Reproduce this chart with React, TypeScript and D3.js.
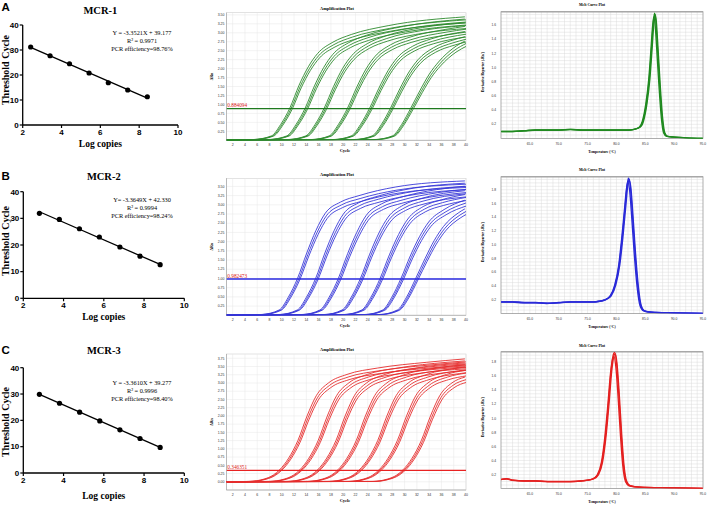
import React from "react";
import * as d3 from "d3";

type Pt = [number, number];

// ---------- Standard curves (log copies vs threshold cycle) ----------
const stdLogA = [2.41, 3.41, 4.41, 5.42, 6.41, 7.41, 8.42];
const stdCtA = [31.2, 27.7, 24.5, 20.8, 16.9, 14.0, 11.3];
const stdLogB = [2.8, 3.79, 4.79, 5.78, 6.8, 7.8, 8.8];
const stdCtB = [31.9, 29.6, 26.1, 23.0, 19.25, 15.8, 12.6];
const stdLogC = [2.8, 3.8, 4.8, 5.8, 6.8, 7.8, 8.8];
const stdCtC = [29.9, 26.5, 23.1, 19.8, 16.4, 13.1, 9.7];
const eqA = ["Y = -3.3521X + 39.177", "R² = 0.9971", "PCR efficiency=98.76%"];
const eqB = ["Y= -3.3649X + 42.330", "R² = 0.9994", "PCR efficiency=98.24%"];
const eqC = ["Y = -3.3610X + 39.277", "R² = 0.9996", "PCR efficiency=98.40%"];
const logTicks = [2, 4, 6, 8, 10];
const ctTicks = [0, 10, 20, 30, 40];

// ---------- Amplification plots ([cycle, ΔRn] key points per dilution) ----------
const ampA: Pt[][] = [
  [[1, 0], [5.5, 0.02], [8.5, 0.12], [10, 0.43], [11.5, 0.88], [13, 1.5], [14.5, 2.0], [16, 2.36], [18.5, 2.67], [21.5, 2.88], [27.5, 3.12], [40, 3.36]],
  [[1, 0], [8, 0.02], [11, 0.12], [12.5, 0.43], [14, 0.88], [15.5, 1.48], [17, 1.98], [18.5, 2.34], [21, 2.65], [24, 2.86], [30, 3.1], [40, 3.3]],
  [[1, 0], [11.1, 0.02], [14.1, 0.12], [15.6, 0.43], [17.1, 0.88], [18.6, 1.46], [20.1, 1.96], [21.6, 2.31], [24.1, 2.63], [27.1, 2.84], [33.1, 3.07], [40, 3.2]],
  [[1, 0], [14.9, 0.02], [17.9, 0.12], [19.4, 0.43], [20.9, 0.88], [22.4, 1.45], [23.9, 1.94], [25.4, 2.29], [27.9, 2.6], [30.9, 2.8], [36.9, 3.02], [40, 3.1]],
  [[1, 0], [18.5, 0.02], [21.5, 0.12], [23, 0.43], [24.5, 0.88], [26, 1.42], [27.5, 1.9], [29, 2.25], [31.5, 2.56], [34.5, 2.76], [40, 2.96]],
  [[1, 0], [21.9, 0.02], [24.9, 0.12], [26.4, 0.43], [27.9, 0.88], [29.4, 1.4], [30.9, 1.86], [32.4, 2.2], [34.9, 2.52], [37.9, 2.72], [40, 2.82]],
  [[1, 0], [25.2, 0.02], [28.2, 0.12], [29.7, 0.43], [31.2, 0.88], [32.7, 1.36], [34.2, 1.8], [35.7, 2.13], [38.2, 2.52], [40, 2.7]],
];
const ampB: Pt[][] = [
  [[1, 0], [6.75, 0.02], [9.75, 0.14], [11.25, 0.48], [12.75, 0.98], [14.25, 1.65], [15.75, 2.25], [17.25, 2.7], [19.75, 3.0], [22.75, 3.17], [28.75, 3.4], [40, 3.56]],
  [[1, 0], [9.7, 0.02], [12.7, 0.14], [14.2, 0.48], [15.7, 0.98], [17.2, 1.65], [18.7, 2.24], [20.2, 2.68], [22.7, 2.98], [25.7, 3.15], [31.7, 3.37], [40, 3.5]],
  [[1, 0], [13.4, 0.02], [16.4, 0.14], [17.9, 0.48], [19.4, 0.98], [20.9, 1.63], [22.4, 2.2], [23.9, 2.64], [26.4, 2.95], [29.4, 3.12], [35.4, 3.33], [40, 3.42]],
  [[1, 0], [17, 0.02], [20, 0.14], [21.5, 0.48], [23, 0.98], [24.5, 1.62], [26, 2.18], [27.5, 2.6], [30, 2.92], [33, 3.1], [40, 3.3]],
  [[1, 0], [20.2, 0.02], [23.2, 0.14], [24.7, 0.48], [26.2, 0.98], [27.7, 1.6], [29.2, 2.14], [30.7, 2.55], [33.2, 2.88], [36.2, 3.06], [40, 3.2]],
  [[1, 0], [23.6, 0.02], [26.6, 0.14], [28.1, 0.48], [29.6, 0.98], [31.1, 1.57], [32.6, 2.08], [34.1, 2.47], [36.6, 2.8], [40, 3.05]],
  [[1, 0], [26, 0.02], [29, 0.14], [30.5, 0.48], [32, 0.98], [33.5, 1.5], [35, 1.98], [36.5, 2.35], [39, 2.72], [40, 2.82]],
];
const ampC: Pt[][] = [
  [[1, 0], [4.8, 0.01], [7.3, 0.08], [8.8, 0.2], [9.8, 0.35], [11.3, 0.7], [12.8, 1.22], [14.3, 1.95], [15.8, 2.55], [17.8, 2.93], [20.8, 3.18], [25.8, 3.37], [33.8, 3.54], [40, 3.64]],
  [[1, 0], [8.1, 0.01], [10.6, 0.08], [12.1, 0.2], [13.1, 0.35], [14.6, 0.7], [16.1, 1.22], [17.6, 1.95], [19.1, 2.55], [21.1, 2.93], [24.1, 3.18], [29.1, 3.37], [37.1, 3.54], [40, 3.58]],
  [[1, 0], [11, 0.01], [13.5, 0.08], [15, 0.2], [16, 0.35], [17.5, 0.7], [19, 1.22], [20.5, 1.95], [22, 2.55], [24, 2.93], [27, 3.18], [32, 3.37], [40, 3.52]],
  [[1, 0], [14.3, 0.01], [16.8, 0.08], [18.3, 0.2], [19.3, 0.35], [20.8, 0.7], [22.3, 1.22], [23.8, 1.95], [25.3, 2.55], [27.3, 2.93], [30.3, 3.18], [35.3, 3.37], [40, 3.47]],
  [[1, 0], [17.8, 0.01], [20.3, 0.08], [21.8, 0.2], [22.8, 0.35], [24.3, 0.7], [25.8, 1.22], [27.3, 1.95], [28.8, 2.55], [30.8, 2.93], [33.8, 3.18], [38.8, 3.37], [40, 3.4]],
  [[1, 0], [21, 0.01], [23.5, 0.08], [25, 0.2], [26, 0.35], [27.5, 0.7], [29, 1.22], [30.5, 1.95], [32, 2.55], [34, 2.93], [37, 3.18], [40, 3.3]],
  [[1, 0], [24.9, 0.01], [27.4, 0.08], [28.9, 0.2], [29.9, 0.35], [31.4, 0.7], [32.9, 1.22], [34.4, 1.95], [35.9, 2.55], [37.9, 2.93], [40, 3.1]],
];
const ampRepShift = [-0.18, 0, 0.16];
const ampRepScale = [1.025, 1, 0.975];
const thresholdA = 0.884094;
const thresholdB = 0.982473;
const thresholdC = 0.346351;
const cycleTicks = [2, 4, 6, 8, 10, 12, 14, 16, 18, 20, 22, 24, 26, 28, 30, 32, 34, 36, 38, 40];
const drnTicksAB = [0.25, 0.5, 0.75, 1.0, 1.25, 1.5, 1.75, 2.0, 2.25, 2.5, 2.75, 3.0, 3.25, 3.5];
const drnTicksC = [0, 0.25, 0.5, 0.75, 1.0, 1.25, 1.5, 1.75, 2.0, 2.25, 2.5, 2.75, 3.0, 3.25, 3.5, 3.75];

// ---------- Melt curves ([temperature, -Rn'] ) ----------
const meltA: Pt[] = [[60, 0.1], [62, 0.1], [64, 0.11], [66, 0.12], [68, 0.12], [70, 0.12], [72, 0.13], [74, 0.12], [76, 0.12], [78, 0.12], [80, 0.12], [82, 0.12], [83, 0.13], [84, 0.16], [84.6, 0.25], [85.2, 0.5], [85.7, 0.85], [86.1, 1.3], [86.4, 1.65], [86.6, 1.77], [86.8, 1.68], [87.1, 1.3], [87.5, 0.75], [87.9, 0.3], [88.3, 0.08], [88.8, 0.03], [90, 0.02], [92, 0.01], [95, 0.0]];
const meltB: Pt[] = [[60, 0.17], [62, 0.17], [64, 0.16], [66, 0.16], [68, 0.15], [70, 0.16], [72, 0.17], [74, 0.17], [76, 0.17], [77, 0.18], [78, 0.2], [79, 0.26], [79.8, 0.42], [80.5, 0.72], [81, 1.1], [81.5, 1.55], [81.9, 1.9], [82.1, 1.97], [82.4, 1.85], [82.8, 1.4], [83.2, 0.9], [83.7, 0.4], [84.2, 0.12], [84.8, 0.04], [86, 0.02], [90, 0.01], [95, 0.0]];
const meltC: Pt[] = [[60, 0.13], [61, 0.14], [62, 0.12], [64, 0.11], [66, 0.11], [68, 0.1], [70, 0.1], [72, 0.1], [74, 0.11], [75, 0.12], [76, 0.14], [76.8, 0.2], [77.5, 0.38], [78.1, 0.75], [78.6, 1.2], [79.1, 1.7], [79.5, 1.92], [79.7, 1.94], [80, 1.8], [80.4, 1.35], [80.8, 0.8], [81.2, 0.35], [81.7, 0.1], [82.3, 0.04], [84, 0.02], [90, 0.01], [95, 0.0]];
const meltRepShift = [-0.12, 0, 0.1];
const meltRepScale = [0.97, 1, 0.99];
const tempTicks = [65, 70, 75, 80, 85, 90, 95];
const derivTicksA = [0.2, 0.4, 0.6, 0.8, 1.0, 1.2, 1.4, 1.6];
const derivTicksBC = [0.2, 0.4, 0.6, 0.8, 1.0, 1.2, 1.4, 1.6, 1.8];

const SERIF = "'Liberation Serif','Times New Roman',serif";
const SANS = "'Liberation Sans',Arial,sans-serif";

function StdCurve(props: any) {
  const { logs, cts, eq, title, letter, y0, y40, x0, x1, letterY, titleY, logY, yLabC, eqY } = props;
  const x = d3.scaleLinear().domain([2, 10]).range([x0, x1]);
  const y = d3.scaleLinear().domain([0, 40]).range([y0, y40]);
  const mx = d3.mean(logs) as number;
  const my = d3.mean(cts) as number;
  const sxy = d3.sum(logs.map((v: number, i: number) => (v - mx) * (cts[i] - my)));
  const sxx = d3.sum(logs.map((v: number) => (v - mx) * (v - mx)));
  const slope = sxy / sxx;
  const icpt = my - slope * mx;
  const lx0 = d3.min(logs) as number;
  const lx1 = d3.max(logs) as number;
  const cx = (x0 + x1) / 2;
  return (
    <g>
      <text x={1.5} y={letterY} fontFamily={SANS} fontWeight="bold" fontSize={11.5}>{letter}</text>
      <text x={cx} y={titleY} textAnchor="middle" fontFamily={SERIF} fontWeight="bold" fontSize={10.5}>{title}</text>
      <line x1={x0} x2={x0} y1={y0} y2={y40} stroke="#000" strokeWidth={1.3} />
      <line x1={x0} x2={x1} y1={y0} y2={y0} stroke="#000" strokeWidth={1.3} />
      {ctTicks.map((t) => (
        <g key={"y" + t}>
          <line x1={x0 - 3} x2={x0} y1={y(t)} y2={y(t)} stroke="#000" strokeWidth={1.2} />
          <text x={x0 - 4} y={y(t)} dy="0.35em" textAnchor="end" fontFamily={SANS} fontWeight="bold" fontSize={8}>{t}</text>
        </g>
      ))}
      {logTicks.map((t) => (
        <g key={"x" + t}>
          <line x1={x(t)} x2={x(t)} y1={y0} y2={y0 + 3} stroke="#000" strokeWidth={1.2} />
          <text x={x(t)} y={y0 + 10} textAnchor="middle" fontFamily={SANS} fontWeight="bold" fontSize={8}>{t}</text>
        </g>
      ))}
      <text transform={`translate(${9},${yLabC}) rotate(-90)`} textAnchor="middle" fontFamily={SERIF} fontWeight="bold" fontSize={10}>Threshold Cycle</text>
      <text x={cx} y={logY} textAnchor="middle" fontFamily={SERIF} fontWeight="bold" fontSize={9.5}>Log copies</text>
      <line x1={x(lx0)} x2={x(lx1)} y1={y(icpt + slope * lx0)} y2={y(icpt + slope * lx1)} stroke="#000" strokeWidth={1.3} />
      {logs.map((v: number, i: number) => (
        <circle key={i} cx={x(v)} cy={y(cts[i])} r={2.6} fill="#000" />
      ))}
      {eq.map((s: string, i: number) => (
        <text key={i} x={142} y={eqY + i * 8.2} textAnchor="middle" fontFamily={SERIF} fontSize={6.3}>{s}</text>
      ))}
    </g>
  );
}

function AmpPlot(props: any) {
  const { id, groups, color, thrColor, threshold, thrLabel, yDomain, yTicks, top, bottom, titleY, thrWidth } = props;
  const left = 226.5, right = 466;
  const x = d3.scaleLinear().domain([1, 40]).range([left, right]);
  const y = d3.scaleLinear().domain(yDomain).range([bottom, top]);
  const line = d3.line<Pt>().x((d) => x(d[0])).y((d) => y(d[1])).curve(d3.curveMonotoneX);
  const fmt = d3.format(".2f");
  const hGrid = d3.range(Math.ceil(yDomain[0] / 0.25) * 0.25, yDomain[1], 0.25);
  return (
    <g>
      <defs>
        <clipPath id={id}>
          <rect x={left} y={top} width={right - left} height={bottom - top} />
        </clipPath>
      </defs>
      <text x={337} y={titleY} textAnchor="middle" fontFamily={SERIF} fontWeight="bold" fontSize={4.3}>Amplification Plot</text>
      <rect x={left} y={top} width={right - left} height={bottom - top} fill="#fff" stroke="#d0d0d0" strokeWidth={0.6} />
      {cycleTicks.map((c) => (
        <line key={"v" + c} x1={x(c)} x2={x(c)} y1={top} y2={bottom} stroke="#e6e6e6" strokeWidth={0.5} />
      ))}
      {hGrid.map((v) => (
        <line key={"h" + v} x1={left} x2={right} y1={y(v)} y2={y(v)} stroke="#e6e6e6" strokeWidth={0.5} />
      ))}
      <line x1={left} x2={left} y1={top} y2={bottom} stroke="#9a9a9a" strokeWidth={0.6} />
      <line x1={left} x2={right} y1={bottom} y2={bottom} stroke="#9a9a9a" strokeWidth={0.6} />
      <g clipPath={`url(#${id})`}>
        {groups.map((g: Pt[], gi: number) =>
          ampRepShift.map((s, ri) => (
            <path key={gi + "-" + ri} d={line(g.map((p) => [p[0] + s, p[1] * ampRepScale[ri]] as Pt)) as string} fill="none" stroke={color} strokeWidth={0.9} />
          ))
        )}
        <line x1={left} x2={right} y1={y(threshold)} y2={y(threshold)} stroke={thrColor} strokeWidth={thrWidth} />
      </g>
      <text x={left + 0.8} y={y(threshold) - 1.3} fontFamily={SERIF} fontSize={5.3} fill="#e01818">{thrLabel}</text>
      {yTicks.map((t: number) => (
        <text key={"yt" + t} x={left - 2} y={y(t)} dy="0.35em" textAnchor="end" fontFamily={SANS} fontSize={3.5} fill="#333">{fmt(t)}</text>
      ))}
      {cycleTicks.map((c) => (
        <text key={"xt" + c} x={x(c)} y={bottom + 5.5} textAnchor="middle" fontFamily={SANS} fontSize={3.5} fill="#333">{c}</text>
      ))}
      <text x={345} y={bottom + 11.5} textAnchor="middle" fontFamily={SERIF} fontWeight="bold" fontSize={4.5}>Cycle</text>
      <text transform={`translate(${213},${(top + bottom) / 2}) rotate(-90)`} textAnchor="middle" fontFamily={SERIF} fontWeight="bold" fontSize={4}>ΔRn</text>
    </g>
  );
}

function MeltPlot(props: any) {
  const { id, data, color, yDomain, yTicks, top, bottom, titleY } = props;
  const left = 501, right = 703;
  const x = d3.scaleLinear().domain([60, 95]).range([left, right]);
  const y = d3.scaleLinear().domain(yDomain).range([bottom, top]);
  const line = d3.line<Pt>().x((d) => x(d[0])).y((d) => y(d[1])).curve(d3.curveMonotoneX);
  const vGrid = d3.range(61, 95, 1);
  const hGrid = d3.range(0.05, yDomain[1], 0.05);
  return (
    <g>
      <defs>
        <clipPath id={id}>
          <rect x={left} y={top} width={right - left} height={bottom - top} />
        </clipPath>
      </defs>
      <text x={592} y={titleY} textAnchor="middle" fontFamily={SERIF} fontWeight="bold" fontSize={3.8}>Melt Curve Plot</text>
      <rect x={left} y={top} width={right - left} height={bottom - top} fill="#fff" />
      {vGrid.map((c) => (
        <line key={"v" + c} x1={x(c)} x2={x(c)} y1={top} y2={bottom} stroke="#dadada" strokeWidth={0.45} />
      ))}
      {hGrid.map((v, i) => (
        <line key={"h" + i} x1={left} x2={right} y1={y(v)} y2={y(v)} stroke="#dadada" strokeWidth={0.45} />
      ))}
      <rect x={left} y={top} width={right - left} height={bottom - top} fill="none" stroke="#8c8c8c" strokeWidth={0.7} />
      <line x1={left} x2={right} y1={top} y2={top} stroke="#a8a8a8" strokeWidth={1.6} />
      <g clipPath={`url(#${id})`}>
        {meltRepShift.map((s, ri) => (
          <path key={ri} d={line(data.map((p: Pt) => [p[0] + s, p[1] * meltRepScale[ri]] as Pt)) as string} fill="none" stroke={color} strokeWidth={1.3} />
        ))}
      </g>
      {yTicks.map((t: number) => (
        <text key={"yt" + t} x={left - 5} y={y(t)} dy="0.35em" textAnchor="end" fontFamily={SANS} fontSize={3.3} fill="#333">{t.toFixed(1)}</text>
      ))}
      {tempTicks.map((c) => (
        <text key={"xt" + c} x={x(c)} y={bottom + 6.5} textAnchor="middle" fontFamily={SANS} fontSize={3.3} fill="#333">{c.toFixed(1)}</text>
      ))}
      <text x={602} y={bottom + 14.3} textAnchor="middle" fontFamily={SERIF} fontWeight="bold" fontSize={3.6}>Temperature (°C)</text>
      <text transform={`translate(${484},${(top + bottom) / 2 - 3}) rotate(-90)`} textAnchor="middle" fontFamily={SERIF} fontWeight="bold" fontSize={3.5}>Derivative Reporter (-Rn')</text>
    </g>
  );
}

export default function App() {
  return (
    <svg width={708} height={505} viewBox="0 0 708 505" style={{ position: "absolute", left: 0, top: 0, background: "#fff" }}>
      <rect width={708} height={505} fill="#fff" />
      <StdCurve logs={stdLogA} cts={stdCtA} eq={eqA} title="MCR-1" letter="A" x0={22.7} x1={178} y0={125} y40={25} letterY={11} titleY={14} logY={146.5} yLabC={70} eqY={35} />
      <StdCurve logs={stdLogB} cts={stdCtB} eq={eqB} title="MCR-2" letter="B" x0={23.3} x1={184.3} y0={298.3} y40={191.7} letterY={180} titleY={180} logY={320} yLabC={241} eqY={202} />
      <StdCurve logs={stdLogC} cts={stdCtC} eq={eqC} title="MCR-3" letter="C" x0={23.3} x1={184.3} y0={473} y40={367.7} letterY={354} titleY={354} logY={499} yLabC={422} eqY={385} />

      <AmpPlot id="ampA" groups={ampA} color="#2c8a2c" thrColor="#1f7a1f" thrWidth={1.3} threshold={thresholdA} thrLabel="0.884094" yDomain={[0, 3.56]} yTicks={drnTicksAB} top={12.7} bottom={140.3} titleY={10} />
      <AmpPlot id="ampB" groups={ampB} color="#3838d8" thrColor="#2a2ae0" thrWidth={1.5} threshold={thresholdB} thrLabel="0.982473" yDomain={[0, 3.72]} yTicks={drnTicksAB} top={178.3} bottom={315.3} titleY={176} />
      <AmpPlot id="ampC" groups={ampC} color="#e52e2e" thrColor="#e82222" thrWidth={1.3} threshold={thresholdC} thrLabel="0.346351" yDomain={[-0.25, 3.88]} yTicks={drnTicksC} top={354} bottom={490} titleY={351} />

      <MeltPlot id="meltA" data={meltA} color="#208a20" yDomain={[0, 1.79]} yTicks={derivTicksA} top={11.7} bottom={138.5} titleY={6} />
      <MeltPlot id="meltB" data={meltB} color="#2a2ad8" yDomain={[0, 1.99]} yTicks={derivTicksBC} top={176.7} bottom={313.5} titleY={171} />
      <MeltPlot id="meltC" data={meltC} color="#e42020" yDomain={[0, 1.95]} yTicks={derivTicksBC} top={351.7} bottom={488.5} titleY={347} />
    </svg>
  );
}
